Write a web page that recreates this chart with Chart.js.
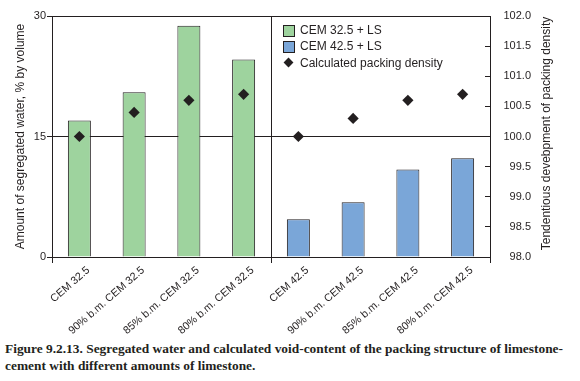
<!DOCTYPE html>
<html>
<head>
<meta charset="utf-8">
<script src="https://cdn.jsdelivr.net/npm/chart.js@4/dist/chart.umd.min.js"></script>
<style>
  html, body { margin: 0; padding: 0; background: #fff; }
  #wrap { position: relative; width: 580px; height: 381px; overflow: hidden; }
  #c { position: absolute; left: 0; top: 0; }
  #legend { position: absolute; left: 283px; top: 22px; font: 12px "Liberation Sans", Arial, sans-serif; color: #231f20; }
  #legend .item { height: 16.3px; line-height: 16px; position: relative; padding-left: 17px; white-space: nowrap; }
  #legend .box { position: absolute; left: 0; top: 3px; width: 10px; height: 10px; border: 1px solid #231f20; }
  #legend .dia { position: absolute; left: 2px; top: 4px; width: 7px; height: 7px; background: #231f20; transform: rotate(45deg); }
  #caption { position: absolute; left: 5px; top: 340px; width: 575px; font: bold 13.4px "Liberation Serif", "Times New Roman", serif; line-height: 17px; color: #231f20; white-space: nowrap; }
</style>
</head>
<body>
<div id="wrap">
  <canvas id="c" width="580" height="338"></canvas>
  <div id="legend">
    <div class="item"><span class="box" style="background:#9ed39e"></span>CEM 32.5 + LS</div>
    <div class="item"><span class="box" style="background:#7aa6d8"></span>CEM 42.5 + LS</div>
    <div class="item"><span class="dia"></span>Calculated packing density</div>
  </div>
  <div id="caption">Figure 9.2.13. Segregated water and calculated void-content of the packing structure of limestone-<br>cement with different amounts of limestone.</div>
</div>
<script>
const categories = ['CEM 32.5', '90% b.m. CEM 32.5', '85% b.m. CEM 32.5', '80% b.m. CEM 32.5',
                    'CEM 42.5', '90% b.m. CEM 42.5', '85% b.m. CEM 42.5', '80% b.m. CEM 42.5'];
const cem325Water = [17.0, 20.5, 28.8, 24.6, null, null, null, null];
const cem425Water = [null, null, null, null, 4.7, 6.8, 10.9, 12.3];
const packingDensity = [100.0, 100.4, 100.6, 100.7, 100.0, 100.3, 100.6, 100.7];
const leftTicks = [0, 15, 30];
const rightTicks = [98.0, 98.5, 99.0, 99.5, 100.0, 100.5, 101.0, 101.5, 102.0];

const INK = '#231f20';
const FONT = '"Liberation Sans", Arial, sans-serif';

function noPad(s) { s.paddingTop = 0; s.paddingBottom = 0; s.paddingLeft = 0; s.paddingRight = 0; }

const rightTitle = {
  id: 'rightTitle',
  afterDraw(chart) {
    const ctx = chart.ctx;
    const a = chart.chartArea;
    ctx.save();
    ctx.translate(547, (a.top + a.bottom) / 2 - 3);
    ctx.rotate(-Math.PI / 2);
    ctx.font = '12px ' + FONT;
    ctx.fillStyle = INK;
    ctx.textAlign = 'center';
    ctx.textBaseline = 'middle';
    ctx.fillText('Tendentious devebpment of packing density', 0, 0);
    ctx.restore();
  }
};

new Chart(document.getElementById('c'), {
  data: {
    labels: categories,
    datasets: [
      {
        type: 'line', label: 'Calculated packing density', data: packingDensity, yAxisID: 'y1',
        showLine: false, pointStyle: 'rectRot', pointRadius: 5.6, pointHoverRadius: 5.6,
        backgroundColor: INK, borderColor: INK, borderWidth: 0, order: 0
      },
      {
        type: 'bar', label: 'CEM 32.5 + LS', data: cem325Water, yAxisID: 'y',
        backgroundColor: '#9ed39e', borderColor: INK, borderWidth: 1, grouped: false,
        barPercentage: 0.42, categoryPercentage: 1, order: 1
      },
      {
        type: 'bar', label: 'CEM 42.5 + LS', data: cem425Water, yAxisID: 'y',
        backgroundColor: '#7aa6d8', borderColor: INK, borderWidth: 1, grouped: false,
        barPercentage: 0.42, categoryPercentage: 1, order: 1
      }
    ]
  },
  options: {
    responsive: false,
    animation: false,
    layout: { padding: { top: 16, left: 0, right: 49, bottom: 0 } },
    plugins: { legend: { display: false }, tooltip: { enabled: false } },
    scales: {
      x: {
        offset: true,
        grid: {
          offset: true,
          color: (c) => (c.index === 4 ? INK : 'rgba(0,0,0,0)'),
          tickColor: (c) => (c.index === 0 || c.index === 4 || c.index === undefined ? INK : 'rgba(0,0,0,0)'),
          tickLength: 6, lineWidth: 1
        },
        border: { display: true, color: INK, width: 1 },
        ticks: {
          autoSkip: false, maxRotation: 41, minRotation: 41, labelOffset: 9, padding: 1,
          color: INK, font: { family: FONT, size: 10.8 }
        },
        afterFit: (s) => { s.height = 81; noPad(s); }
      },
      y: {
        position: 'left', min: 0, max: 30,
        afterBuildTicks: (s) => { s.ticks = leftTicks.map(v => ({ value: v })); },
        grid: { color: INK, lineWidth: 1, tickLength: 5, tickColor: INK },
        border: { display: true, color: INK, width: 1 },
        ticks: { padding: 1, color: INK, font: { family: FONT, size: 11 } },
        title: { display: true, text: 'Amount of segregated water, % by volume', color: INK,
                 font: { family: FONT, size: 12 }, padding: { top: 13, bottom: 0 } },
        afterFit: (s) => { s.width = 52; noPad(s); }
      },
      y1: {
        position: 'right', min: 98, max: 102,
        afterBuildTicks: (s) => { s.ticks = rightTicks.map(v => ({ value: v })); },
        grid: { drawOnChartArea: false, tickLength: -5, tickColor: INK },
        border: { display: true, color: INK, width: 1 },
        ticks: { padding: 13, crossAlign: 'far', color: INK, font: { family: FONT, size: 11 },
                 callback: (v) => Number(v).toFixed(1) },
        afterFit: (s) => { s.width = 41; noPad(s); }
      }
    }
  },
  plugins: [rightTitle]
});
</script>
</body>
</html>
